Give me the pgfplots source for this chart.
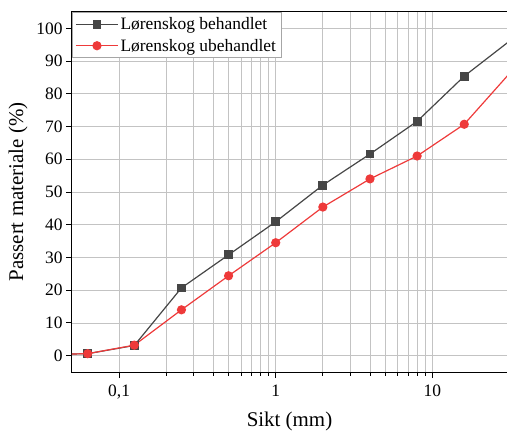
\documentclass[border=0pt]{standalone}
\usepackage{fontspec}
\setmainfont{Liberation Serif}
\usepackage{pgfplots}
\pgfplotsset{compat=1.18}
\definecolor{behgray}{RGB}{70,70,70}
\definecolor{ubered}{RGB}{238,58,58}
\definecolor{gridgray}{RGB}{195,195,195}

\begin{document}
\begin{tikzpicture}
\path[use as bounding box] (-72bp,-60bp) rectangle (435bp,372bp);
\begin{axis}[
  scale only axis,
  width=435bp, height=360bp,
  xmode=log,
  xmin=0.05, xmax=30,
  ymin=-5, ymax=105,
  ytick={0,10,...,100},
  xtick={0.1,1,10},
  xticklabels={{0,1},1,10},
  tick align=outside,
  tick pos=left,
  major tick length=6bp,
  minor tick length=3.5bp,
  tick style={black, line width=0.9pt},
  axis line style={black, line width=1pt},
  grid=both,
  major grid style={draw=gridgray, line width=0.8pt},
  minor grid style={draw=gridgray, line width=0.8pt},
  ymajorgrids=true, yminorgrids=false,
  /pgf/number format/assume math mode=true,
  tick label style={font=\fontsize{17.5}{19}\selectfont},
  xticklabel style={yshift=-3bp},
  xlabel={Sikt (mm)},
  ylabel={Passert materiale (\%)},
  label style={font=\fontsize{21}{23}\selectfont},
  xlabel style={yshift=-6bp},
  ylabel style={yshift=2bp},
  legend style={at={(0,1)}, anchor=north west, draw=gray!70, line width=0.8pt,
    font=\fontsize{17.5}{19}\selectfont, inner sep=3pt, row sep=4pt,
    legend cell align=left},
  legend image code/.code={
    \draw[mark repeat=2,mark phase=2] plot coordinates {(0bp,0bp) (21bp,0bp) (42bp,0bp)};},
]
\addplot[color=behgray, line width=1.2pt, mark=square*, mark size=3.8pt, mark options={fill=behgray}]
  coordinates {(0.04,0.4) (0.063,0.6) (0.125,3.1) (0.25,20.7) (0.5,30.8) (1,40.9) (2,52.1) (4,61.6) (8,71.6) (16,85.4) (31.5,96.3)};
\addlegendentry{Lørenskog behandlet}
\addplot[color=ubered, line width=1.2pt, mark=*, mark size=4pt, mark options={fill=ubered}]
  coordinates {(0.04,0.4) (0.063,0.6) (0.125,3.2) (0.25,14.0) (0.5,24.4) (1,34.5) (2,45.4) (4,54.0) (8,61.0) (16,70.7) (31.5,86.5)};
\addlegendentry{Lørenskog ubehandlet}
\end{axis}
\end{tikzpicture}
\end{document}
